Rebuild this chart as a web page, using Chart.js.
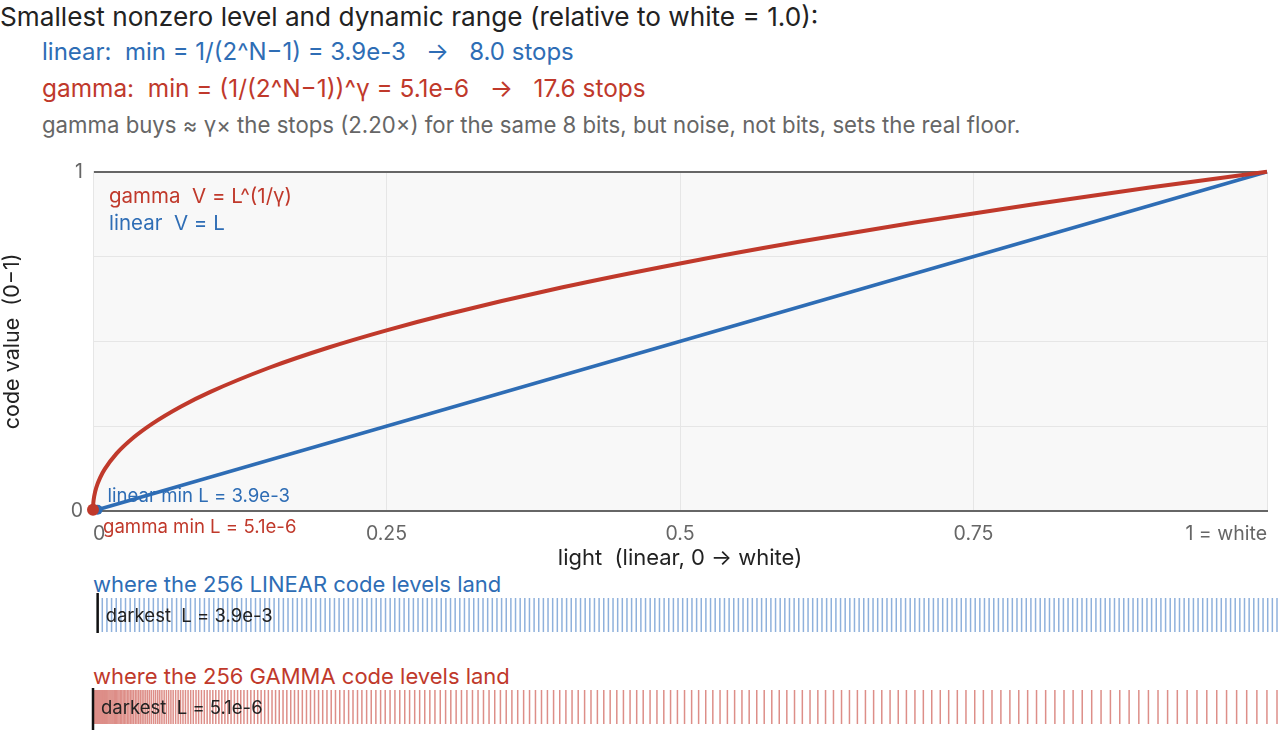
<!DOCTYPE html>
<html>
<head>
<meta charset="utf-8">
<script src="https://cdn.jsdelivr.net/npm/chart.js@4.4.0/dist/chart.umd.min.js"></script>
<style>
body { margin: 0; background: #fff; width: 1278px; height: 730px; overflow: hidden; position: relative;
       font-family: Inter, "Noto Sans", sans-serif; }
.t { position: absolute; white-space: pre; }
canvas { position: absolute; left: 0; }
</style>
</head>
<body>
<div class="t" style="left:0;top:2px;font-size:26.2px;line-height:30px;color:#222">Smallest nonzero level and dynamic range (relative to white = 1.0):</div>
<div class="t" style="left:42px;top:38px;font-size:24px;line-height:28px;color:#2e6db5">linear:  min = 1/(2^N−1) = 3.9e-3   →   8.0 stops</div>
<div class="t" style="left:42px;top:74px;font-size:24.4px;line-height:28px;color:#c0392b">gamma:  min = (1/(2^N−1))^γ = 5.1e-6   →   17.6 stops</div>
<div class="t" style="left:42px;top:112px;font-size:22.2px;line-height:26px;color:#666">gamma buys ≈ γ× the stops (2.20×) for the same 8 bits, but noise, not bits, sets the real floor.</div>
<div class="t" style="left:93px;top:571px;font-size:22px;line-height:26px;color:#2e6db5">where the 256 LINEAR code levels land</div>
<div class="t" style="left:93px;top:663px;font-size:22px;line-height:26px;color:#c0392b">where the 256 GAMMA code levels land</div>

<canvas id="main" width="1278" height="425" style="top:150px"></canvas>
<canvas id="linStrip" width="1278" height="50" style="top:590px"></canvas>
<canvas id="gamStrip" width="1278" height="50" style="top:682px"></canvas>

<script>
var red = '#c0392b';
var blue = '#2e6db5';

// transfer curves (light L -> code value V)
var curveL     = [0.0000051, 0.00002, 0.0001, 0.0003, 0.001, 0.003, 0.006, 0.01, 0.02, 0.035, 0.05, 0.075, 0.1, 0.15, 0.2, 0.25, 0.3, 0.4, 0.5, 0.6, 0.7, 0.8, 0.9, 1];
var curveGamma = [0.0039, 0.0073, 0.0152, 0.0251, 0.0433, 0.0713, 0.0978, 0.1233, 0.169, 0.2179, 0.2562, 0.3081, 0.3511, 0.4222, 0.4812, 0.5325, 0.5785, 0.6594, 0.7297, 0.7928, 0.8503, 0.9036, 0.9532, 1];
var linearL = [0, 1];
var linearV = [0, 1];

// smallest nonzero levels
var firstCode = 0.0039;
var linearMinL = 0.0039;
var gammaMinL = 0.0000051;

var xTickValues = [0, 0.25, 0.5, 0.75, 1];
var xTickLabels = ['0', '0.25', '0.5', '0.75', '1 = white'];
var yTickValues = [0, 0.25, 0.5, 0.75, 1];
var yTickLabels = ['0', '', '', '', '1'];

// 8-bit code values
var codeLevels = [
  0, 1, 2, 3, 4, 5, 6, 7, 8, 9, 10, 11, 12, 13, 14, 15,
  16, 17, 18, 19, 20, 21, 22, 23, 24, 25, 26, 27, 28, 29, 30, 31,
  32, 33, 34, 35, 36, 37, 38, 39, 40, 41, 42, 43, 44, 45, 46, 47,
  48, 49, 50, 51, 52, 53, 54, 55, 56, 57, 58, 59, 60, 61, 62, 63,
  64, 65, 66, 67, 68, 69, 70, 71, 72, 73, 74, 75, 76, 77, 78, 79,
  80, 81, 82, 83, 84, 85, 86, 87, 88, 89, 90, 91, 92, 93, 94, 95,
  96, 97, 98, 99, 100, 101, 102, 103, 104, 105, 106, 107, 108, 109, 110, 111,
  112, 113, 114, 115, 116, 117, 118, 119, 120, 121, 122, 123, 124, 125, 126, 127,
  128, 129, 130, 131, 132, 133, 134, 135, 136, 137, 138, 139, 140, 141, 142, 143,
  144, 145, 146, 147, 148, 149, 150, 151, 152, 153, 154, 155, 156, 157, 158, 159,
  160, 161, 162, 163, 164, 165, 166, 167, 168, 169, 170, 171, 172, 173, 174, 175,
  176, 177, 178, 179, 180, 181, 182, 183, 184, 185, 186, 187, 188, 189, 190, 191,
  192, 193, 194, 195, 196, 197, 198, 199, 200, 201, 202, 203, 204, 205, 206, 207,
  208, 209, 210, 211, 212, 213, 214, 215, 216, 217, 218, 219, 220, 221, 222, 223,
  224, 225, 226, 227, 228, 229, 230, 231, 232, 233, 234, 235, 236, 237, 238, 239,
  240, 241, 242, 243, 244, 245, 246, 247, 248, 249, 250, 251, 252, 253, 254, 255
];

// light level of each gamma code (0..1)
var gammaLevels = [
  0, 0.000005, 0.000023, 0.000057, 0.000107,
  0.00018, 0.0003, 0.00043, 0.00055, 0.00068,
  0.0008, 0.00103, 0.00126, 0.0015, 0.00173,
  0.00196, 0.00231, 0.00266, 0.003, 0.00335,
  0.0037, 0.00417, 0.00464, 0.0051, 0.00557,
  0.00604, 0.00664, 0.00723, 0.00783, 0.00842,
  0.00902, 0.00975, 0.01048, 0.0112, 0.01193,
  0.01266, 0.01353, 0.01439, 0.01526, 0.01612,
  0.01699, 0.01799, 0.019, 0.02, 0.02101,
  0.02201, 0.02316, 0.02431, 0.02546, 0.02661,
  0.0278, 0.0291, 0.0303, 0.0316, 0.0329,
  0.0342, 0.0357, 0.0371, 0.0386, 0.04,
  0.0415, 0.043, 0.0446, 0.0462, 0.0478,
  0.0494, 0.0512, 0.0529, 0.0547, 0.0564,
  0.0582, 0.0601, 0.062, 0.0639, 0.0658,
  0.0677, 0.0698, 0.0719, 0.0739, 0.076,
  0.0781, 0.0803, 0.0825, 0.0847, 0.087,
  0.0892, 0.0916, 0.094, 0.0964, 0.0988,
  0.1012, 0.1037, 0.1063, 0.1088, 0.1114,
  0.1139, 0.1166, 0.1194, 0.1221, 0.1248,
  0.1275, 0.1304, 0.1333, 0.1362, 0.1391,
  0.142, 0.145, 0.1481, 0.1512, 0.1542,
  0.1573, 0.1605, 0.1637, 0.167, 0.1702,
  0.1734, 0.1768, 0.1803, 0.1837, 0.1871,
  0.1905, 0.194, 0.1976, 0.2012, 0.2048,
  0.2084, 0.2121, 0.2159, 0.2196, 0.2234,
  0.2271, 0.2311, 0.235, 0.2389, 0.2429,
  0.2468, 0.2509, 0.255, 0.2591, 0.2633,
  0.2674, 0.2717, 0.2759, 0.2802, 0.2845,
  0.2888, 0.2933, 0.2978, 0.3022, 0.3067,
  0.3112, 0.3158, 0.3205, 0.3252, 0.3298,
  0.3345, 0.3393, 0.3441, 0.349, 0.3538,
  0.3587, 0.3637, 0.3687, 0.3737, 0.3788,
  0.3838, 0.389, 0.3942, 0.3994, 0.4046,
  0.4098, 0.4152, 0.4206, 0.426, 0.4314,
  0.4368, 0.4424, 0.448, 0.4536, 0.4592,
  0.4647, 0.4705, 0.4763, 0.4821, 0.4878,
  0.4936, 0.4996, 0.5056, 0.5115, 0.5175,
  0.5235, 0.5296, 0.5358, 0.5419, 0.5481,
  0.5542, 0.5606, 0.5669, 0.5733, 0.5796,
  0.586, 0.5925, 0.5991, 0.6056, 0.6122,
  0.6187, 0.6254, 0.6322, 0.6389, 0.6456,
  0.6524, 0.6593, 0.6662, 0.6732, 0.6801,
  0.687, 0.6942, 0.7013, 0.7084, 0.7156,
  0.7227, 0.73, 0.7373, 0.7447, 0.752,
  0.7593, 0.7668, 0.7744, 0.7819, 0.7894,
  0.7969, 0.8046, 0.8124, 0.8201, 0.8278,
  0.8355, 0.8435, 0.8514, 0.8593, 0.8672,
  0.8751, 0.8833, 0.8914, 0.8995, 0.9076,
  0.9158, 0.9241, 0.9324, 0.9407, 0.9491,
  0.9574, 0.9659, 0.9744, 0.983, 0.9915,
  1
];

Chart.defaults.font.family = 'Inter, "Noto Sans", sans-serif';

function toPoints(xs, ys) {
  return xs.map(function (x, i) { return { x: x, y: ys[i] }; });
}

var plotBg = {
  id: 'plotBg',
  beforeDraw: function (chart) {
    var a = chart.chartArea, ctx = chart.ctx;
    ctx.save();
    ctx.fillStyle = '#f8f8f8';
    ctx.fillRect(a.left, a.top, a.width, a.height);
    ctx.restore();
  }
};

var notes = {
  id: 'notes',
  afterDraw: function (chart) {
    var ctx = chart.ctx, a = chart.chartArea;
    var sx = chart.scales.x, sy = chart.scales.y;
    ctx.save();
    ctx.textBaseline = 'middle';
    ctx.textAlign = 'left';
    ctx.font = '20.5px ' + Chart.defaults.font.family;
    ctx.fillStyle = red;
    ctx.fillText('gamma  V = L^(1/γ)', a.left + 16, a.top + 25);
    ctx.fillStyle = blue;
    ctx.fillText('linear  V = L', a.left + 16, a.top + 52);
    ctx.font = '18.6px ' + Chart.defaults.font.family;
    ctx.fillText('linear min L = 3.9e-3', sx.getPixelForValue(linearMinL) + 10, sy.getPixelForValue(firstCode) - 13);
    ctx.fillStyle = red;
    ctx.fillText('gamma min L = 5.1e-6', sx.getPixelForValue(gammaMinL) + 10, sy.getPixelForValue(firstCode) + 18);
    ctx.restore();
  }
};

new Chart(document.getElementById('main'), {
  type: 'scatter',
  data: {
    datasets: [
      { label: 'gamma min', data: [{ x: gammaMinL, y: firstCode }], pointRadius: 6, backgroundColor: red, borderWidth: 0, clip: false },
      { label: 'gamma', data: toPoints(curveL, curveGamma), showLine: true, borderColor: red, borderWidth: 4,
        pointRadius: 0, cubicInterpolationMode: 'monotone', clip: false },
      { label: 'linear min', data: [{ x: linearMinL, y: firstCode }], pointRadius: 5, backgroundColor: blue, borderWidth: 0, clip: false },
      { label: 'linear', data: toPoints(linearL, linearV), showLine: true, borderColor: blue, borderWidth: 3.5, pointRadius: 0, clip: false }
    ]
  },
  options: {
    responsive: false,
    animation: false,
    layout: { autoPadding: false, padding: { top: 18, right: 1, left: 0, bottom: 0 } },
    plugins: { legend: { display: false }, tooltip: { enabled: false } },
    scales: {
      x: {
        type: 'linear', min: 0, max: 1,
        afterBuildTicks: function (s) { s.ticks = xTickValues.map(function (v) { return { value: v }; }); },
        afterFit: function (s) { s.height = 64; },
        ticks: { align: 'inner', padding: 11, color: '#666', font: { size: 19.5 }, maxRotation: 0, autoSkip: false,
                 callback: function (v, i) { return xTickLabels[i]; } },
        grid: { color: '#e6e6e6', drawTicks: false },
        border: { color: '#666', width: 2 },
        title: { display: true, text: 'light  (linear, 0 → white)', color: '#222', font: { size: 22 }, padding: { top: 0, bottom: 3 } }
      },
      y: {
        min: 0, max: 1,
        afterBuildTicks: function (s) { s.ticks = yTickValues.map(function (v) { return { value: v }; }); },
        afterFit: function (s) { s.width = 93; },
        ticks: { padding: 10, color: '#666', font: { size: 19.5 }, callback: function (v, i) { return yTickLabels[i]; } },
        grid: {
          color: function (c) { return c.tick && c.tick.value === 1 ? '#666' : '#e6e6e6'; },
          lineWidth: function (c) { return c.tick && c.tick.value === 1 ? 2 : 1; },
          drawTicks: false
        },
        border: { color: '#e6e6e6' },
        title: { display: true, text: 'code value  (0−1)', color: '#222', font: { size: 21.5 }, padding: { top: 0, bottom: 0 } }
      }
    }
  },
  plugins: [plotBg, notes]
});

function stripLabel(text, markX) {
  return {
    id: 'stripLabel',
    afterDraw: function (chart) {
      var ctx = chart.ctx;
      ctx.save();
      ctx.font = '18.5px ' + Chart.defaults.font.family;
      ctx.textBaseline = 'middle';
      ctx.fillStyle = '#222';
      ctx.fillText(text, chart.scales.x.getPixelForValue(markX) + 8, chart.height / 2 + 1);
      ctx.restore();
    }
  };
}

function stripOptions(xMax) {
  return {
    responsive: false,
    animation: false,
    layout: { autoPadding: false, padding: { left: 93, right: 1, top: 0, bottom: 0 } },
    plugins: { legend: { display: false }, tooltip: { enabled: false } },
    scales: {
      x: { type: 'linear', display: false, min: 0, max: xMax },
      y: { display: false, min: -1, max: 1 }
    }
  };
}

// linear strip: axis in code units (code / 255 = light)
new Chart(document.getElementById('linStrip'), {
  type: 'scatter',
  data: {
    datasets: [
      { data: [{ x: codeLevels[1], y: 0.08 }], pointStyle: 'line', rotation: 90, radius: 20, borderColor: '#111', borderWidth: 2.5, clip: false },
      { data: codeLevels.slice(1).map(function (c) { return { x: c, y: 0 }; }), pointStyle: 'line', rotation: 90, radius: 17,
        borderColor: '#8fb1dc', borderWidth: 1.5, clip: false }
    ]
  },
  options: stripOptions(255),
  plugins: [stripLabel('darkest  L = 3.9e-3', codeLevels[1])]
});

new Chart(document.getElementById('gamStrip'), {
  type: 'scatter',
  data: {
    datasets: [
      { data: [{ x: gammaLevels[1], y: -0.08 }], pointStyle: 'line', rotation: 90, radius: 21, borderColor: '#111', borderWidth: 2.5, clip: false },
      { data: gammaLevels.slice(1).map(function (l) { return { x: l, y: 0 }; }), pointStyle: 'line', rotation: 90, radius: 17,
        borderColor: '#dd8e88', borderWidth: 1.5, clip: false }
    ]
  },
  options: stripOptions(1),
  plugins: [stripLabel('darkest  L = 5.1e-6', gammaLevels[1])]
});
</script>
</body>
</html>
